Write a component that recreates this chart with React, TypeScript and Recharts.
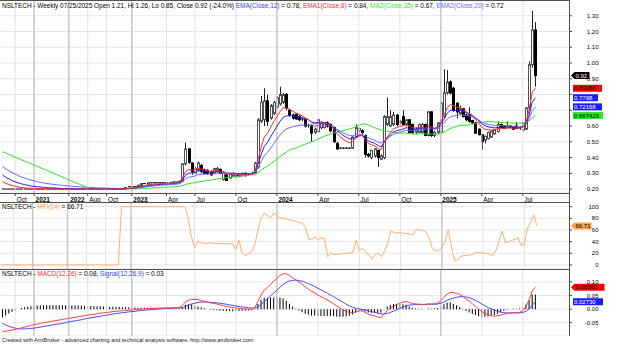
import { ComposedChart, Line, Bar, XAxis, YAxis, CartesianGrid, ReferenceLine } from "recharts"

// x axis: bar index of first bar of a month, and its label
const tickIdx = [4, 10, 21, 27, 33, 41, 52, 61, 74, 87, 100, 113, 126, 139, 152, 165]
const tickLabels = ["Oct", "2021", "2022", "Aug", "Oct", "2023", "Apr", "Jul", "Oct", "2024", "Apr", "Jul", "Oct", "2025", "Apr", "Jul"]

// weekly OHLC
const open = [
  0.2, 0.2, 0.2, 0.2, 0.2, 0.2, 0.2, 0.2, 0.2, 0.2, 0.2, 0.2, 0.2, 0.2, 0.2, 0.2, 0.2, 0.2, 0.2, 0.2,
  0.2, 0.2, 0.2, 0.2, 0.2, 0.2, 0.2, 0.2, 0.2, 0.2, 0.2, 0.2, 0.2, 0.2, 0.2, 0.2, 0.2, 0.2, 0.2, 0.2,
  0.215, 0.215, 0.215, 0.215, 0.22, 0.235, 0.23, 0.24, 0.235, 0.24, 0.24, 0.235, 0.24, 0.24, 0.24, 0.245, 0.24, 0.25, 0.36, 0.455,
  0.365, 0.3, 0.32, 0.35, 0.32, 0.32, 0.31, 0.3, 0.31, 0.325, 0.26, 0.29, 0.27, 0.28, 0.29, 0.28, 0.29, 0.3, 0.29, 0.295,
  0.3, 0.34, 0.63, 0.64, 0.76, 0.65, 0.68, 0.72, 0.74, 0.75, 0.8, 0.7, 0.67, 0.675, 0.66, 0.645, 0.64, 0.6, 0.605, 0.56,
  0.565, 0.59, 0.59, 0.62, 0.61, 0.59, 0.49, 0.46, 0.46, 0.46, 0.46, 0.46, 0.53, 0.57, 0.57, 0.54, 0.42, 0.4, 0.41, 0.445,
  0.39, 0.4, 0.61, 0.6, 0.61, 0.67, 0.62, 0.66, 0.61, 0.64, 0.61, 0.56, 0.56, 0.56, 0.61, 0.54, 0.69, 0.54, 0.56, 0.56,
  0.66, 0.81, 0.88, 0.84, 0.745, 0.68, 0.71, 0.67, 0.67, 0.635, 0.62, 0.58, 0.545, 0.51, 0.52, 0.53, 0.55, 0.565, 0.61, 0.6,
  0.59, 0.6, 0.595, 0.6, 0.585, 0.575, 0.58, 0.715, 0.99, 1.21,
]
const high = [
  0.2, 0.2, 0.2, 0.2, 0.2, 0.2, 0.2, 0.2, 0.2, 0.2, 0.2, 0.2, 0.2, 0.2, 0.2, 0.2, 0.2, 0.2, 0.2, 0.2,
  0.2, 0.2, 0.2, 0.2, 0.2, 0.2, 0.2, 0.2, 0.2, 0.2, 0.2, 0.2, 0.2, 0.2, 0.2, 0.2, 0.2, 0.2, 0.2, 0.21,
  0.215, 0.215, 0.215, 0.225, 0.235, 0.235, 0.24, 0.24, 0.24, 0.24, 0.24, 0.24, 0.24, 0.24, 0.245, 0.245, 0.25, 0.365, 0.495, 0.46,
  0.37, 0.34, 0.375, 0.36, 0.33, 0.325, 0.32, 0.335, 0.34, 0.33, 0.305, 0.295, 0.3, 0.305, 0.3, 0.3, 0.305, 0.305, 0.3, 0.31,
  0.37, 0.65, 0.79, 0.84, 0.8, 0.74, 0.76, 0.79, 0.85, 0.81, 0.81, 0.71, 0.68, 0.68, 0.67, 0.65, 0.645, 0.61, 0.61, 0.59,
  0.645, 0.63, 0.625, 0.63, 0.615, 0.595, 0.5, 0.465, 0.465, 0.465, 0.465, 0.535, 0.61, 0.59, 0.58, 0.545, 0.43, 0.45, 0.46, 0.45,
  0.42, 0.67, 0.78, 0.7, 0.69, 0.675, 0.64, 0.7, 0.645, 0.645, 0.615, 0.585, 0.615, 0.62, 0.615, 0.695, 0.695, 0.57, 0.625, 0.75,
  0.96, 0.955, 0.89, 0.85, 0.75, 0.73, 0.715, 0.68, 0.72, 0.64, 0.625, 0.585, 0.55, 0.54, 0.565, 0.575, 0.58, 0.63, 0.615, 0.605,
  0.63, 0.605, 0.6, 0.625, 0.6, 0.625, 0.72, 1.01, 1.33, 1.26,
]
const low = [
  0.2, 0.2, 0.2, 0.2, 0.2, 0.2, 0.2, 0.2, 0.2, 0.2, 0.2, 0.2, 0.2, 0.2, 0.2, 0.2, 0.2, 0.2, 0.2, 0.2,
  0.2, 0.2, 0.2, 0.2, 0.2, 0.2, 0.2, 0.2, 0.2, 0.2, 0.2, 0.2, 0.2, 0.2, 0.2, 0.2, 0.2, 0.2, 0.2, 0.2,
  0.215, 0.215, 0.215, 0.215, 0.22, 0.235, 0.23, 0.235, 0.235, 0.24, 0.235, 0.235, 0.24, 0.24, 0.24, 0.245, 0.24, 0.245, 0.35, 0.36,
  0.29, 0.295, 0.315, 0.3, 0.295, 0.29, 0.285, 0.295, 0.305, 0.295, 0.255, 0.25, 0.265, 0.275, 0.27, 0.275, 0.28, 0.28, 0.285, 0.29,
  0.295, 0.33, 0.62, 0.6, 0.6, 0.64, 0.67, 0.71, 0.73, 0.74, 0.7, 0.66, 0.64, 0.64, 0.63, 0.63, 0.59, 0.59, 0.5, 0.55,
  0.56, 0.58, 0.585, 0.59, 0.56, 0.495, 0.45, 0.455, 0.455, 0.455, 0.455, 0.455, 0.525, 0.56, 0.55, 0.4, 0.4, 0.39, 0.4, 0.34,
  0.385, 0.39, 0.6, 0.595, 0.6, 0.6, 0.61, 0.6, 0.6, 0.555, 0.55, 0.55, 0.555, 0.555, 0.535, 0.535, 0.53, 0.53, 0.55, 0.555,
  0.65, 0.8, 0.8, 0.69, 0.65, 0.67, 0.655, 0.63, 0.62, 0.61, 0.55, 0.54, 0.45, 0.49, 0.515, 0.525, 0.545, 0.56, 0.585, 0.58,
  0.585, 0.585, 0.575, 0.58, 0.575, 0.57, 0.575, 0.7, 0.97, 0.85,
]
const close = [
  0.2, 0.2, 0.2, 0.2, 0.2, 0.2, 0.2, 0.2, 0.2, 0.2, 0.2, 0.2, 0.2, 0.2, 0.2, 0.2, 0.2, 0.2, 0.2, 0.2,
  0.2, 0.2, 0.2, 0.2, 0.2, 0.2, 0.2, 0.2, 0.2, 0.2, 0.2, 0.2, 0.2, 0.2, 0.2, 0.2, 0.2, 0.2, 0.2, 0.21,
  0.215, 0.215, 0.215, 0.225, 0.235, 0.235, 0.24, 0.235, 0.24, 0.24, 0.235, 0.24, 0.24, 0.24, 0.245, 0.245, 0.25, 0.36, 0.455, 0.37,
  0.31, 0.33, 0.365, 0.31, 0.3, 0.3, 0.29, 0.33, 0.33, 0.3, 0.3, 0.255, 0.295, 0.3, 0.28, 0.29, 0.3, 0.285, 0.295, 0.3,
  0.365, 0.64, 0.75, 0.76, 0.63, 0.73, 0.75, 0.78, 0.8, 0.8, 0.715, 0.67, 0.65, 0.645, 0.64, 0.64, 0.6, 0.605, 0.555, 0.58,
  0.64, 0.62, 0.62, 0.6, 0.57, 0.5, 0.455, 0.46, 0.46, 0.46, 0.46, 0.53, 0.59, 0.585, 0.56, 0.42, 0.41, 0.445, 0.455, 0.4,
  0.41, 0.66, 0.66, 0.66, 0.67, 0.61, 0.63, 0.61, 0.64, 0.56, 0.56, 0.58, 0.61, 0.61, 0.54, 0.69, 0.54, 0.56, 0.62, 0.745,
  0.81, 0.88, 0.81, 0.7, 0.69, 0.71, 0.66, 0.64, 0.63, 0.62, 0.555, 0.545, 0.5, 0.535, 0.56, 0.57, 0.575, 0.61, 0.59, 0.585,
  0.6, 0.59, 0.58, 0.585, 0.59, 0.62, 0.715, 0.99, 1.21, 0.92,
]

// moving averages as drawn on the price pane
const ema8 = [
  0.247, 0.237, 0.228, 0.222, 0.217, 0.213, 0.21, 0.208, 0.206, 0.205, 0.204, 0.203, 0.202, 0.202, 0.201, 0.201, 0.2, 0.2, 0.2, 0.2,
  0.2, 0.2, 0.2, 0.2, 0.2, 0.2, 0.2, 0.2, 0.2, 0.2, 0.2, 0.2, 0.2, 0.2, 0.2, 0.2, 0.2, 0.2, 0.2, 0.202,
  0.205, 0.207, 0.209, 0.213, 0.218, 0.222, 0.226, 0.228, 0.231, 0.233, 0.233, 0.235, 0.236, 0.237, 0.239, 0.24, 0.242, 0.268, 0.31, 0.323,
  0.32, 0.322, 0.332, 0.327, 0.321, 0.316, 0.31, 0.314, 0.318, 0.314, 0.311, 0.299, 0.298, 0.298, 0.294, 0.293, 0.295, 0.293, 0.293, 0.295,
  0.311, 0.384, 0.465, 0.531, 0.553, 0.592, 0.627, 0.661, 0.692, 0.716, 0.716, 0.706, 0.694, 0.683, 0.673, 0.666, 0.651, 0.641, 0.622, 0.613,
  0.619, 0.619, 0.619, 0.615, 0.605, 0.582, 0.554, 0.533, 0.517, 0.504, 0.494, 0.502, 0.522, 0.536, 0.541, 0.514, 0.491, 0.481, 0.475, 0.458,
  0.447, 0.494, 0.531, 0.56, 0.584, 0.59, 0.599, 0.601, 0.61, 0.599, 0.59, 0.588, 0.593, 0.597, 0.584, 0.608, 0.593, 0.586, 0.594, 0.628,
  0.668, 0.715, 0.736, 0.728, 0.72, 0.718, 0.705, 0.691, 0.677, 0.664, 0.64, 0.619, 0.593, 0.58, 0.576, 0.575, 0.575, 0.583, 0.584, 0.584,
  0.588, 0.588, 0.586, 0.586, 0.587, 0.594, 0.621, 0.703, 0.816, 0.839,
]
const ema12 = [
  0.289, 0.275, 0.264, 0.254, 0.246, 0.239, 0.233, 0.228, 0.224, 0.22, 0.217, 0.215, 0.213, 0.211, 0.209, 0.208, 0.207, 0.206, 0.205, 0.204,
  0.203, 0.203, 0.202, 0.202, 0.201, 0.201, 0.2, 0.2, 0.2, 0.2, 0.2, 0.2, 0.2, 0.2, 0.2, 0.2, 0.2, 0.2, 0.2, 0.202,
  0.204, 0.206, 0.207, 0.21, 0.214, 0.217, 0.221, 0.223, 0.226, 0.228, 0.229, 0.231, 0.232, 0.233, 0.235, 0.237, 0.239, 0.258, 0.288, 0.301,
  0.302, 0.306, 0.315, 0.314, 0.312, 0.31, 0.307, 0.311, 0.314, 0.312, 0.31, 0.302, 0.301, 0.301, 0.298, 0.297, 0.297, 0.295, 0.295, 0.296,
  0.307, 0.358, 0.418, 0.471, 0.495, 0.531, 0.565, 0.598, 0.629, 0.655, 0.664, 0.665, 0.663, 0.66, 0.657, 0.654, 0.646, 0.64, 0.627, 0.62,
  0.623, 0.623, 0.623, 0.619, 0.611, 0.594, 0.573, 0.556, 0.541, 0.529, 0.518, 0.52, 0.531, 0.539, 0.542, 0.523, 0.506, 0.497, 0.491, 0.477,
  0.467, 0.497, 0.522, 0.544, 0.563, 0.57, 0.576, 0.581, 0.59, 0.585, 0.581, 0.581, 0.585, 0.589, 0.581, 0.598, 0.589, 0.585, 0.59, 0.614,
  0.644, 0.68, 0.7, 0.7, 0.698, 0.7, 0.694, 0.686, 0.678, 0.669, 0.651, 0.635, 0.614, 0.602, 0.595, 0.591, 0.588, 0.591, 0.591, 0.59,
  0.591, 0.591, 0.589, 0.588, 0.588, 0.593, 0.612, 0.67, 0.753, 0.779,
]
const ema20 = [
  0.342, 0.329, 0.316, 0.305, 0.295, 0.285, 0.277, 0.27, 0.263, 0.257, 0.252, 0.247, 0.243, 0.239, 0.236, 0.233, 0.23, 0.228, 0.226, 0.224,
  0.222, 0.22, 0.218, 0.216, 0.215, 0.213, 0.212, 0.211, 0.21, 0.209, 0.208, 0.207, 0.207, 0.206, 0.205, 0.205, 0.204, 0.204, 0.203, 0.204,
  0.205, 0.206, 0.207, 0.209, 0.211, 0.213, 0.216, 0.218, 0.22, 0.222, 0.223, 0.225, 0.226, 0.228, 0.229, 0.231, 0.233, 0.245, 0.265, 0.275,
  0.278, 0.283, 0.291, 0.293, 0.294, 0.295, 0.294, 0.297, 0.3, 0.3, 0.3, 0.296, 0.296, 0.296, 0.295, 0.295, 0.295, 0.294, 0.294, 0.295,
  0.302, 0.334, 0.374, 0.411, 0.432, 0.46, 0.488, 0.516, 0.543, 0.567, 0.581, 0.589, 0.595, 0.6, 0.604, 0.607, 0.606, 0.606, 0.601, 0.599,
  0.603, 0.605, 0.606, 0.605, 0.602, 0.592, 0.579, 0.568, 0.558, 0.548, 0.54, 0.539, 0.544, 0.548, 0.549, 0.537, 0.525, 0.517, 0.511, 0.5,
  0.491, 0.507, 0.522, 0.535, 0.548, 0.554, 0.561, 0.566, 0.573, 0.572, 0.571, 0.572, 0.576, 0.579, 0.575, 0.586, 0.582, 0.58, 0.584, 0.599,
  0.619, 0.644, 0.66, 0.664, 0.667, 0.671, 0.67, 0.667, 0.663, 0.658, 0.648, 0.638, 0.625, 0.616, 0.611, 0.607, 0.604, 0.605, 0.603, 0.601,
  0.601, 0.6, 0.598, 0.596, 0.595, 0.598, 0.609, 0.645, 0.699, 0.72,
]
const ma35 = [
  0.437, 0.429, 0.42, 0.412, 0.403, 0.395, 0.386, 0.378, 0.369, 0.361, 0.352, 0.344, 0.336, 0.327, 0.319, 0.31, 0.302, 0.293, 0.285, 0.276,
  0.268, 0.259, 0.251, 0.242, 0.234, 0.225, 0.217, 0.208, 0.2, 0.2, 0.2, 0.2, 0.2, 0.2, 0.2, 0.2, 0.2, 0.2, 0.2, 0.2,
  0.201, 0.201, 0.202, 0.202, 0.203, 0.204, 0.205, 0.206, 0.208, 0.209, 0.21, 0.211, 0.212, 0.213, 0.214, 0.216, 0.217, 0.222, 0.229, 0.234,
  0.237, 0.241, 0.245, 0.249, 0.251, 0.254, 0.257, 0.261, 0.264, 0.267, 0.27, 0.272, 0.274, 0.277, 0.279, 0.281, 0.284, 0.286, 0.288, 0.29,
  0.293, 0.305, 0.319, 0.334, 0.345, 0.36, 0.374, 0.39, 0.406, 0.421, 0.435, 0.447, 0.455, 0.461, 0.468, 0.478, 0.485, 0.492, 0.499, 0.507,
  0.517, 0.526, 0.535, 0.542, 0.55, 0.556, 0.562, 0.566, 0.571, 0.576, 0.581, 0.587, 0.596, 0.604, 0.612, 0.613, 0.607, 0.598, 0.589, 0.583,
  0.574, 0.571, 0.568, 0.564, 0.56, 0.557, 0.556, 0.555, 0.555, 0.552, 0.55, 0.549, 0.55, 0.551, 0.55, 0.551, 0.549, 0.547, 0.548, 0.553,
  0.562, 0.574, 0.584, 0.591, 0.597, 0.603, 0.605, 0.606, 0.608, 0.614, 0.618, 0.621, 0.622, 0.626, 0.63, 0.628, 0.625, 0.624, 0.622, 0.621,
  0.62, 0.619, 0.618, 0.618, 0.619, 0.62, 0.623, 0.634, 0.653, 0.667,
]

// MFI(14)
const mfi = [
  0, 0, 0, 0, 0, 0, 0, 0, 0, 0, 0, 0, 0, 0, 0, 0, 0, 0, 0, 0,
  0, 0, 0, 0, 0, 0, 0, 0, 0, 0, 0, 0, 0, 0, 0, 0, 0, 0, 100, 100,
  100, 100, 100, 100, 100, 100, 100, 100, 100, 100, 100, 100, 100, 100, 100, 100, 100, 100, 100, 80,
  50, 29, 40, 38, 37, 37, 38, 37, 37, 36, 37, 36, 36, 37, 26, 43, 21, 16, 19, 23,
  34, 60, 80, 89, 85, 81, 89, 84, 81, 80, 79, 77, 76, 75, 73, 72, 65, 44, 44, 48,
  43, 46, 46, 14, 20, 18, 18, 19, 19, 20, 20, 22, 42, 25, 28, 22, 17, 10, 19, 20,
  14, 25, 38, 59, 55, 55, 56, 54, 54, 53, 52, 61, 60, 60, 57, 46, 28, 25, 24, 30,
  40, 60, 31, 8, 8, 15, 16, 16, 17, 19, 22, 21, 20, 20, 19, 16, 24, 40, 58, 38,
  40, 42, 44, 47, 33, 36, 63, 74, 86, 66.71,
]

// MACD(12,26), signal(12,26,9), histogram
const macd = [
  -0.083, -0.081, -0.079, -0.077, -0.075, -0.072, -0.069, -0.066, -0.063, -0.06, -0.057, -0.055, -0.052, -0.05, -0.048, -0.046, -0.044, -0.042, -0.04, -0.038,
  -0.036, -0.034, -0.032, -0.03, -0.028, -0.026, -0.024, -0.022, -0.02, -0.019, -0.017, -0.015, -0.014, -0.012, -0.011, -0.009, -0.008, -0.007, -0.006, -0.005,
  -0.004, -0.003, -0.002, -0.001, 0, 0.001, 0.002, 0.003, 0.003, 0.004, 0.004, 0.004, 0.005, 0.005, 0.005, 0.006, 0.006, 0.014, 0.026, 0.033,
  0.036, 0.036, 0.035, 0.032, 0.029, 0.026, 0.023, 0.021, 0.019, 0.016, 0.013, 0.01, 0.008, 0.006, 0.004, 0.003, 0.002, 0.001, 0, 0,
  0.005, 0.028, 0.052, 0.07, 0.08, 0.092, 0.102, 0.113, 0.124, 0.131, 0.13, 0.124, 0.116, 0.108, 0.1, 0.092, 0.082, 0.074, 0.066, 0.06,
  0.052, 0.046, 0.04, 0.034, 0.027, 0.02, 0.012, 0.004, -0.003, -0.008, -0.012, -0.013, -0.01, -0.007, -0.006, -0.012, -0.018, -0.022, -0.025, -0.029,
  -0.031, -0.018, -0.006, 0.004, 0.012, 0.017, 0.022, 0.026, 0.028, 0.025, 0.021, 0.019, 0.018, 0.018, 0.017, 0.02, 0.019, 0.02, 0.023, 0.032,
  0.044, 0.056, 0.062, 0.061, 0.058, 0.054, 0.047, 0.038, 0.03, 0.02, 0.01, 0, -0.009, -0.016, -0.021, -0.024, -0.026, -0.025, -0.022, -0.019,
  -0.016, -0.014, -0.013, -0.013, -0.012, -0.006, 0.008, 0.035, 0.068, 0.0806,
]
const signal = [
  -0.052, -0.058, -0.063, -0.067, -0.07, -0.072, -0.073, -0.073, -0.072, -0.071, -0.07, -0.068, -0.066, -0.064, -0.062, -0.06, -0.058, -0.056, -0.054, -0.052,
  -0.05, -0.047, -0.045, -0.043, -0.041, -0.039, -0.036, -0.034, -0.032, -0.03, -0.028, -0.026, -0.024, -0.022, -0.02, -0.018, -0.016, -0.015, -0.013, -0.012,
  -0.01, -0.009, -0.008, -0.006, -0.005, -0.004, -0.003, -0.002, -0.001, 0, 0.001, 0.002, 0.002, 0.003, 0.003, 0.004, 0.004, 0.006, 0.01, 0.015,
  0.019, 0.022, 0.025, 0.026, 0.026, 0.026, 0.025, 0.024, 0.023, 0.022, 0.02, 0.018, 0.016, 0.014, 0.012, 0.01, 0.008, 0.007, 0.005, 0.004,
  0.004, 0.009, 0.017, 0.028, 0.038, 0.049, 0.059, 0.07, 0.081, 0.091, 0.099, 0.104, 0.106, 0.107, 0.105, 0.103, 0.099, 0.094, 0.089, 0.083,
  0.077, 0.071, 0.065, 0.059, 0.052, 0.046, 0.039, 0.032, 0.025, 0.018, 0.012, 0.007, 0.003, 0.001, -0.001, -0.003, -0.006, -0.009, -0.012, -0.015,
  -0.018, -0.018, -0.016, -0.012, -0.007, -0.002, 0.003, 0.008, 0.012, 0.015, 0.016, 0.017, 0.017, 0.017, 0.017, 0.018, 0.018, 0.018, 0.019, 0.022,
  0.026, 0.032, 0.037, 0.041, 0.044, 0.046, 0.046, 0.045, 0.042, 0.038, 0.032, 0.026, 0.019, 0.012, 0.006, 0.001, -0.004, -0.008, -0.011, -0.013,
  -0.014, -0.014, -0.014, -0.014, -0.014, -0.012, -0.008, 0.001, 0.014, 0.0273,
]
const hist = [
  -0.031, -0.023, -0.016, -0.01, -0.005, 0, 0.004, 0.007, 0.009, 0.011, 0.013, 0.013, 0.014, 0.014, 0.014, 0.014, 0.014, 0.014, 0.014, 0.014,
  0.014, 0.013, 0.013, 0.013, 0.013, 0.013, 0.012, 0.012, 0.012, 0.011, 0.011, 0.011, 0.01, 0.01, 0.009, 0.009, 0.008, 0.008, 0.007, 0.007,
  0.006, 0.006, 0.006, 0.005, 0.005, 0.005, 0.005, 0.005, 0.004, 0.004, 0.003, 0.002, 0.003, 0.002, 0.002, 0.002, 0.002, 0.008, 0.016, 0.018,
  0.017, 0.014, 0.01, 0.006, 0.003, 0, -0.002, -0.003, -0.004, -0.006, -0.007, -0.008, -0.008, -0.008, -0.008, -0.007, -0.006, -0.006, -0.005, -0.004,
  0.001, 0.019, 0.035, 0.042, 0.042, 0.043, 0.043, 0.043, 0.043, 0.04, 0.031, 0.02, 0.01, 0.001, -0.005, -0.011, -0.017, -0.02, -0.023, -0.023,
  -0.025, -0.025, -0.025, -0.025, -0.025, -0.026, -0.027, -0.028, -0.028, -0.026, -0.024, -0.02, -0.013, -0.008, -0.005, -0.009, -0.012, -0.013, -0.013, -0.014,
  -0.013, 0, 0.01, 0.016, 0.019, 0.019, 0.019, 0.018, 0.016, 0.01, 0.005, 0.002, 0.001, 0.001, 0, 0.002, 0.001, 0.002, 0.004, 0.01,
  0.018, 0.024, 0.025, 0.02, 0.014, 0.008, 0.001, -0.007, -0.012, -0.018, -0.022, -0.026, -0.028, -0.028, -0.027, -0.025, -0.022, -0.017, -0.011, -0.006,
  -0.002, 0, 0.001, 0.001, 0.002, 0.006, 0.016, 0.034, 0.054, 0.054,
]

const priceTicks = [0.2, 0.3, 0.4, 0.5, 0.6, 0.7, 0.8, 0.9, 1.0, 1.1, 1.2, 1.3]
const mfiTicks = [0, 20, 40, 60, 80, 100]
const macdTicks = [-0.05, 0, 0.05, 0.1]
// axis labels that sit under the value tags
const priceHidden = [0.7, 0.8]

const rows = close.map((c, i) => ({
  i,
  o: open[i],
  h: high[i],
  l: low[i],
  c,
  range: [low[i], high[i]],
  ema8: ema8[i],
  ema12: ema12[i],
  ema20: ema20[i],
  ma35: ma35[i],
  mfi: mfi[i],
  macd: macd[i],
  signal: signal[i],
  hist: hist[i],
}))

const FONT = "'Liberation Sans', Arial, sans-serif"
const FS = 6.45
const W = 641
const AXIS_W = 72
const MARGIN = { top: 0, right: 0, left: 1, bottom: 0 }
const PAD = { left: 0, right: 32 }

const Candle = (props: any) => {
  const { x, y, width, height, payload } = props
  if (x == null || y == null) return null
  const cx = Math.round(x + width / 2) + 0.5
  const { o, h, l, c } = payload
  const span = h - l
  const yOf = (v: number) => (span > 0 ? y + ((h - v) / span) * height : y)
  const top = yOf(Math.max(o, c))
  const bot = yOf(Math.min(o, c))
  const up = c >= o
  return (
    <g>
      <line x1={cx} x2={cx} y1={y} y2={y + Math.max(height, 0)} stroke="#202020" strokeWidth={1} />
      {bot - top < 1 ? (
        <line x1={cx - 1.5} x2={cx + 1.5} y1={top} y2={top} stroke="#101010" strokeWidth={1} />
      ) : (
        <rect x={cx - 1} y={top} width={2} height={bot - top} fill={up ? "#ffffff" : "#000000"} stroke={up ? "#505050" : "#000000"} strokeWidth={1} />
      )}
    </g>
  )
}

const XTick = (props: any) => {
  const { x, y, payload } = props
  const label = tickLabels[tickIdx.indexOf(payload.value)]
  const bold = /^\d{4}$/.test(label)
  return (
    <text x={x + 1.5} y={y + 3.5} fontSize={FS} fontFamily={FONT} fontWeight={bold ? 700 : 400} fill="#000">
      {label}
    </text>
  )
}

const yTick = (fmt: (v: number) => string, hidden: number[] = []) => (props: any) =>
  hidden.includes(props.payload.value) ? <g /> : (
    <text x={598.5} y={props.y} dy={2.1} fontSize={6} fontFamily={FONT} textAnchor="end" fill="#000">
      {fmt(props.payload.value)}
    </text>
  )

const tag = (text: string, bg: string, fg: string, arrow: boolean, w: number) => (props: any) => {
  const vb = props.viewBox
  if (!vb) return null
  const x0 = vb.x + vb.width
  const y = vb.y
  if (arrow) {
    const pts = `${x0 + 2},${y} ${x0 + 5.5},${y - 3.5} ${x0 + 5.5 + w},${y - 3.5} ${x0 + 5.5 + w},${y + 3.5} ${x0 + 5.5},${y + 3.5}`
    return (
      <g>
        <polygon points={pts} fill={bg} />
        <text x={x0 + 6.5} y={y + 2.1} fontSize={6} fontFamily={FONT} fill={fg}>{text}</text>
      </g>
    )
  }
  return (
    <g>
      <rect x={x0 + 4} y={y - 3.5} width={w} height={7} fill={bg} />
      <text x={x0 + 5} y={y + 2.1} fontSize={6} fontFamily={FONT} fill={fg}>{text}</text>
    </g>
  )
}

const monthLines = (key: string) =>
  tickIdx.map((t, k) => (
    <ReferenceLine
      key={key + t}
      x={t}
      stroke={/^\d{4}$/.test(tickLabels[k]) ? "#c8c8c8" : "#e2e2e2"}
      strokeWidth={/^\d{4}$/.test(tickLabels[k]) ? 1.5 : 1}
    />
  ))

export default function App() {
  return (
    <div style={{ position: "absolute", left: 0, top: 0, width: W, height: 352, background: "#fff", overflow: "hidden" }}>
      {/* price pane */}
      <div style={{ position: "absolute", left: 0, top: 0 }}>
        <ComposedChart width={W} height={202} data={rows} margin={MARGIN} barCategoryGap={0}>
          <CartesianGrid vertical={false} stroke="#e6e6e6" />
          {monthLines("p")}
          <XAxis dataKey="i" type="category" ticks={tickIdx} interval={0} padding={PAD} height={9}
            tick={<XTick />} tickSize={3} tickLine={{ stroke: "#404040" }} axisLine={false} />
          <YAxis orientation="right" width={AXIS_W} domain={[0.175, 1.4]} allowDataOverflow ticks={priceTicks} interval={0}
            tick={yTick((v) => v.toFixed(2), priceHidden)} tickSize={3} tickLine={{ stroke: "#404040" }} axisLine={false} />
          <Line dataKey="ma35" stroke="#2ee02e" strokeWidth={1} dot={false} isAnimationActive={false} />
          <Line dataKey="ema20" stroke="#6a6aff" strokeWidth={1} dot={false} isAnimationActive={false} />
          <Line dataKey="ema12" stroke="#2020ff" strokeWidth={1} dot={false} isAnimationActive={false} />
          <Line dataKey="ema8" stroke="#ff2a2a" strokeWidth={1} dot={false} isAnimationActive={false} />
          <Bar dataKey="range" barSize={3} shape={<Candle />} isAnimationActive={false} />
          <ReferenceLine y={0.92} stroke="none" label={tag("0.92", "#000", "#fff", true, 15)} />
          <ReferenceLine y={0.83958} stroke="none" label={tag("0.83958", "#ff0000", "#000", false, 29)} />
          <ReferenceLine y={0.7798} stroke="none" label={tag("0.7798", "#1c1cff", "#fff", false, 25)} />
          <ReferenceLine y={0.72168} stroke="none" label={tag("0.72168", "#1c1cff", "#fff", false, 29)} />
          <ReferenceLine y={0.667429} stroke="none" label={tag("0.667429", "#22ee22", "#000", false, 30)} />
        </ComposedChart>
      </div>

      {/* MFI pane */}
      <div style={{ position: "absolute", left: 0, top: 202 }}>
        <ComposedChart width={W} height={67} data={rows} margin={MARGIN}>
          <CartesianGrid vertical={false} stroke="#e6e6e6" />
          {monthLines("m")}
          <XAxis dataKey="i" type="category" hide padding={PAD} />
          <YAxis orientation="right" width={AXIS_W} domain={[-7, 108]} allowDataOverflow ticks={mfiTicks} interval={0}
            tick={yTick((v) => String(v))} tickSize={3} tickLine={{ stroke: "#404040" }} axisLine={false} />
          <Line dataKey="mfi" stroke="#ffb070" strokeWidth={1} dot={false} isAnimationActive={false} />
          <ReferenceLine y={66.71} stroke="none" label={tag("66.71", "#ffa64d", "#000", true, 17)} />
        </ComposedChart>
      </div>

      {/* MACD pane */}
      <div style={{ position: "absolute", left: 0, top: 269 }}>
        <ComposedChart width={W} height={67} data={rows} margin={MARGIN}>
          <CartesianGrid vertical={false} stroke="#e6e6e6" />
          {monthLines("d")}
          <XAxis dataKey="i" type="category" hide padding={PAD} />
          <YAxis orientation="right" width={AXIS_W} domain={[-0.099, 0.148]} allowDataOverflow ticks={macdTicks} interval={0}
            tick={yTick((v) => v.toFixed(2))} tickSize={3} tickLine={{ stroke: "#404040" }} axisLine={false} />
          <Bar dataKey="hist" barSize={1} fill="#000" isAnimationActive={false} />
          <Line dataKey="signal" stroke="#4a4aff" strokeWidth={1} dot={false} isAnimationActive={false} />
          <Line dataKey="macd" stroke="#ff4040" strokeWidth={1} dot={false} isAnimationActive={false} />
          <ReferenceLine y={0.08063} stroke="none" label={tag("0.08063", "#ff0000", "#000", true, 30)} />
          <ReferenceLine y={0.0273} stroke="none" label={tag("0.02730", "#1c1cff", "#fff", false, 30)} />
        </ComposedChart>
      </div>

      {/* frames and captions */}
      <svg width={W} height={352} style={{ position: "absolute", left: 0, top: 0, pointerEvents: "none" }} fontFamily={FONT}>
        <line x1={0} x2={569.5} y1={0.5} y2={0.5} stroke="#505050" />
        <line x1={0} x2={569.5} y1={193.5} y2={193.5} stroke="#505050" />
        <line x1={0} x2={569.5} y1={202.5} y2={202.5} stroke="#505050" />
        <line x1={0} x2={569.5} y1={269.5} y2={269.5} stroke="#505050" />
        <line x1={569.5} x2={569.5} y1={0} y2={336} stroke="#505050" />
        <text x={2} y={7.6} fontSize={FS}>
          <tspan fill="#000">NSLTECH - Weekly 07/25/2025 Open 1.21, Hi 1.26, Lo 0.85, Close 0.92 (-24.0%) </tspan>
          <tspan fill="#3c3cff">EMA(Close,12)</tspan>
          <tspan fill="#000"> = 0.78, </tspan>
          <tspan fill="#ff3030">EMA1(Close,8)</tspan>
          <tspan fill="#000"> = 0.84, </tspan>
          <tspan fill="#33ee33">MA2(Close,35)</tspan>
          <tspan fill="#000"> = 0.67, </tspan>
          <tspan fill="#6a6aff">EMA2(Close,20)</tspan>
          <tspan fill="#000"> = 0.72</tspan>
        </text>
        <text x={2} y={208.6} fontSize={FS}>
          <tspan fill="#000">NSLTECH - </tspan>
          <tspan fill="#ffa64d">MFI(14)</tspan>
          <tspan fill="#000"> = 66.71</tspan>
        </text>
        <text x={2} y={276.2} fontSize={FS}>
          <tspan fill="#000">NSLTECH - </tspan>
          <tspan fill="#ff3030">MACD(12,26)</tspan>
          <tspan fill="#000"> = 0.08, </tspan>
          <tspan fill="#3c3cff">Signal(12,26,9)</tspan>
          <tspan fill="#000"> = 0.03</tspan>
        </text>
        <text x={2} y={341.6} fontSize={5.5} fill="#202020">
          Created with AmiBroker - advanced charting and technical analysis software. http://www.amibroker.com
        </text>
      </svg>
    </div>
  )
}
